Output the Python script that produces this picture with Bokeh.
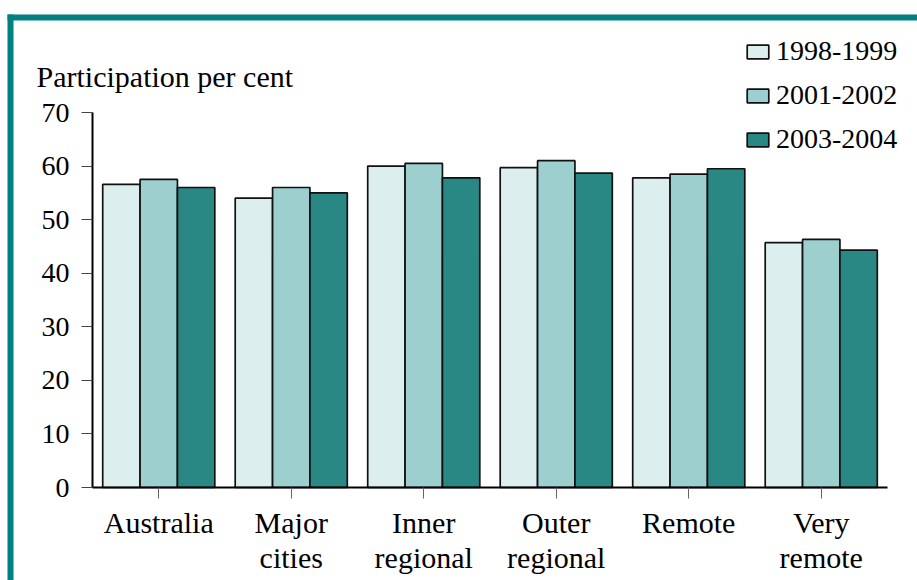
from bokeh.plotting import figure
from bokeh.models import (Range1d, Label, Legend, LegendItem, FixedTicker, ColumnDataSource, LinearAxis)
from bokeh.transform import dodge
from bokeh.embed import file_html
from bokeh.resources import INLINE

categories = ["Australia", "Major cities", "Inner regional", "Outer regional", "Remote", "Very remote"]
label_line1 = ["Australia", "Major", "Inner", "Outer", "Remote", "Very"]
label_line2 = ["", "cities", "regional", "regional", "", "remote"]
series_names = ["1998-1999", "2001-2002", "2003-2004"]
v_1998 = [56.6, 54.0, 60.0, 59.7, 57.8, 45.7]
v_2001 = [57.5, 56.0, 60.5, 61.0, 58.5, 46.3]
v_2003 = [56.0, 55.0, 57.8, 58.7, 59.5, 44.3]
y_ticks = [0, 10, 20, 30, 40, 50, 60, 70]

colors = ["#DCEFEE", "#9DCFCF", "#2A8884"]
FONT = "Liberation Serif"
FS_NUM = "28px"
FS_TXT = "30px"
W, H = 917, 580

# layout: plot area pixel box (canvas coords, y from top)
AX_L, AX_R, AX_B, AX_T = 92, 887, 487, 112
n = len(categories)
px_x = (AX_R - AX_L) / n
px_y = (AX_B - AX_T) / 70.0
x_start, x_end = -AX_L / px_x, n + (W - AX_R) / px_x
y_start, y_end = -(H - AX_B) / px_y, 70 + AX_T / px_y

def cx(px):
    return x_start + px / px_x

def cy(py):
    return y_end - py / px_y

centers = [i + 0.5 for i in range(n)]
src = ColumnDataSource(dict(x=centers, a=v_1998, b=v_2001, c=v_2003))

p = figure(x_range=Range1d(x_start, x_end), y_range=Range1d(y_start, y_end), width=W, height=H,
           output_backend="svg", toolbar_location=None,
           min_border=0, x_axis_type=None, y_axis_type=None)
p.outline_line_color = None
p.grid.grid_line_color = None

# teal frame decoration
teal = "#008080"
p.quad(left=[cx(7)], right=[cx(W)], top=[cy(14)], bottom=[cy(20)], fill_color=teal, line_color=None)
p.quad(left=[cx(7)], right=[cx(13)], top=[cy(14)], bottom=[cy(H)], fill_color=teal, line_color=None)

bw = 0.282
renderers = []
for key, off, col in zip(["a", "b", "c"], [-bw, 0, bw], colors):
    r = p.vbar(x=dodge("x", off), top=key, width=bw, source=src,
               fill_color=col, line_color="#111111", line_width=1.7)
    renderers.append(r)

legend = Legend(items=[LegendItem(label=nm, renderers=[r]) for nm, r in zip(series_names, renderers)],
                location=(744, 425), orientation="vertical",
                glyph_width=27, glyph_height=17, label_height=32, spacing=12,
                label_standoff=5, padding=0, margin=0,
                border_line_color=None, background_fill_alpha=0,
                label_text_font=FONT, label_text_font_size=FS_NUM, label_text_color="black")
p.add_layout(legend, "center")

# y axis
yax = LinearAxis(fixed_location=0, bounds=(0, 70), ticker=FixedTicker(ticks=y_ticks))
yax.axis_line_width = 2
yax.axis_line_color = "black"
yax.major_tick_out = 11
yax.major_tick_in = 0
yax.minor_tick_out = 0
yax.minor_tick_in = 0
yax.major_tick_line_color = "#444444"
yax.major_label_standoff = 12
yax.major_label_text_font = FONT
yax.major_label_text_font_size = FS_NUM
yax.major_label_text_color = "black"
p.add_layout(yax, "left")

# x axis (first label line)
xax = LinearAxis(fixed_location=0, bounds=(0, n), ticker=FixedTicker(ticks=centers))
xax.axis_line_width = 2
xax.axis_line_color = "black"
xax.major_tick_out = 11
xax.major_tick_in = 0
xax.minor_tick_out = 0
xax.minor_tick_in = 0
xax.major_tick_line_color = "#666666"
xax.major_label_standoff = 7
xax.major_label_text_font = FONT
xax.major_label_text_font_size = FS_TXT
xax.major_label_text_color = "black"
xax.major_label_overrides = {c: t for c, t in zip(centers, label_line1)}
p.add_layout(xax, "below")

# x axis second label line
xax2 = LinearAxis(fixed_location=0, bounds=(0, n), ticker=FixedTicker(ticks=centers))
xax2.axis_line_color = None
xax2.major_tick_line_color = None
xax2.minor_tick_line_color = None
xax2.major_tick_out = 0
xax2.major_tick_in = 0
xax2.major_label_standoff = 53
xax2.major_label_text_font = FONT
xax2.major_label_text_font_size = FS_TXT
xax2.major_label_text_color = "black"
xax2.major_label_overrides = {c: t for c, t in zip(centers, label_line2)}
p.add_layout(xax2, "below")

p.add_layout(Label(x=cx(36), y=cy(76), text="Participation per cent",
                   text_font=FONT, text_font_size=FS_TXT, text_color="black", text_baseline="alphabetic"))

open("out.html", "w").write(file_html(p, INLINE))
